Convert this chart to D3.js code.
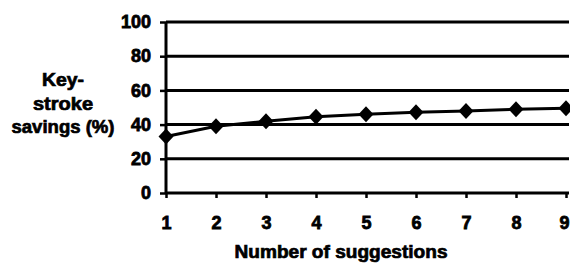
<!DOCTYPE html>
<html><head><meta charset="utf-8">
<script src="https://cdn.jsdelivr.net/npm/d3@7"></script>
<style>
body{margin:0;background:#fff;}
text{font-family:"Liberation Sans",Arial,sans-serif;font-weight:bold;fill:#000;}
</style></head>
<body><svg id="c" width="570" height="263"></svg>
<script>
const suggestions = [1,2,3,4,5,6,7,8,9];
const savings = [33,39,42,44.6,46,47.2,48,49,49.5];
const yTicks = [0,20,40,60,80,100];
const yTitle = ["Key-","stroke","savings (%)"];
const xTitle = "Number of suggestions";

const svg = d3.select("#c");
const x = d3.scaleLinear().domain([1,9]).range([166,566]);
const y = d3.scaleLinear().domain([0,100]).range([193,22]);

// gridlines
svg.append("g").selectAll("line").data(yTicks.filter(d=>d>0)).join("line")
  .attr("x1",166).attr("x2",569).attr("y1",d=>y(d)).attr("y2",d=>y(d))
  .attr("stroke","#000").attr("stroke-width",3);

// y axis
const ya = svg.append("g").attr("transform","translate(166,0)")
  .call(d3.axisLeft(y).tickValues(yTicks).tickSize(6).tickPadding(9));
ya.select(".domain").attr("stroke-width",3).attr("d","M0,"+y(0)+"V"+y(100));
ya.selectAll(".tick line").attr("stroke-width",2.5);
ya.selectAll("text").attr("font-size",18).attr("stroke","#000").attr("stroke-width",0.8)
  .attr("font-family","Liberation Sans, Arial, sans-serif").attr("font-weight","bold");

// x axis
const xa = svg.append("g").attr("transform","translate(0,193)")
  .call(d3.axisBottom(x).tickValues(suggestions).tickFormat(d3.format("d")).tickSize(5).tickPadding(18));
xa.select(".domain").attr("stroke-width",3).attr("d","M166,0H569");
xa.selectAll(".tick line").attr("stroke-width",2.5);
xa.selectAll("text").attr("font-size",18).attr("stroke","#000").attr("stroke-width",0.8)
  .attr("font-family","Liberation Sans, Arial, sans-serif").attr("font-weight","bold")
  .attr("dx",d=>d===9?-2:0);

// line
svg.append("path").datum(suggestions.map((s,i)=>[s,savings[i]]))
  .attr("d",d3.line().x(d=>x(d[0])).y(d=>y(d[1])))
  .attr("fill","none").attr("stroke","#000").attr("stroke-width",3);

// markers
svg.append("g").selectAll("path").data(suggestions.map((s,i)=>[s,savings[i]])).join("path")
  .attr("transform",d=>`translate(${x(d[0])},${y(d[1])})`)
  .attr("d","M0,-8L7.5,0L0,8L-7.5,0Z").attr("fill","#000");

// y title
const yLens = [42,60,103];
svg.append("g").selectAll("text").data(yTitle).join("text")
  .attr("x",63).attr("y",(d,i)=>86+i*23.5).attr("text-anchor","middle")
  .attr("font-size",18).attr("stroke","#000").attr("stroke-width",0.7)
  .attr("textLength",(d,i)=>yLens[i]).attr("lengthAdjust","spacingAndGlyphs").text(d=>d);

// x title
svg.append("text").attr("x",341).attr("y",258).attr("text-anchor","middle")
  .attr("font-size",18).attr("stroke","#000").attr("stroke-width",0.7)
  .attr("textLength",213).attr("lengthAdjust","spacingAndGlyphs").text(xTitle);
</script></body></html>
